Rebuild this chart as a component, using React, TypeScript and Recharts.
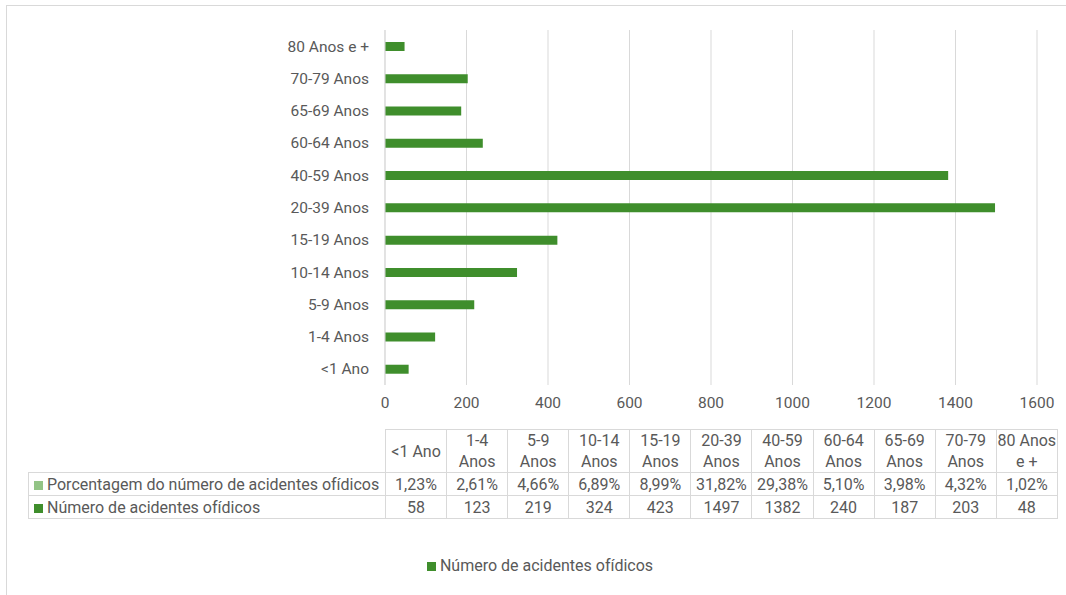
import React from "react";
import {
  Bar,
  BarChart,
  CartesianGrid,
  XAxis,
  YAxis,
} from "recharts";

// faixas etárias, na ordem da tabela
const faixas = [
  "<1 Ano",
  "1-4 Anos",
  "5-9 Anos",
  "10-14 Anos",
  "15-19 Anos",
  "20-39 Anos",
  "40-59 Anos",
  "60-64 Anos",
  "65-69 Anos",
  "70-79 Anos",
  "80 Anos e +",
];
// cabeçalho da tabela de dados (quebra de linha como no original)
const faixasTabela = [
  ["<1 Ano"],
  ["1-4", "Anos"],
  ["5-9", "Anos"],
  ["10-14", "Anos"],
  ["15-19", "Anos"],
  ["20-39", "Anos"],
  ["40-59", "Anos"],
  ["60-64", "Anos"],
  ["65-69", "Anos"],
  ["70-79", "Anos"],
  ["80 Anos", "e +"],
];
const acidentes = [58, 123, 219, 324, 423, 1497, 1382, 240, 187, 203, 48];
const porcentagens = [
  "1,23%", "2,61%", "4,66%", "6,89%", "8,99%", "31,82%",
  "29,38%", "5,10%", "3,98%", "4,32%", "1,02%",
];
const xTicks = [0, 200, 400, 600, 800, 1000, 1200, 1400, 1600];

const serieNome = "Número de acidentes ofídicos";
const seriePct = "Porcentagem do número de acidentes ofídicos";

const data = faixas.map((f, i) => ({ faixa: f, valor: acidentes[i] }));

const VERDE = "#3f8e2c";
const VERDE_CLARO = "#93c486";
const GRADE = "#d9d9d9";
const TEXTO = "#595959";
const FONTE = "Roboto, 'Noto Sans', sans-serif";

const cell: React.CSSProperties = {
  border: `1px solid ${GRADE}`,
  textAlign: "center",
  padding: 0,
  whiteSpace: "nowrap",
  overflow: "visible",
};

function Marcador({ cor }: { cor: string }) {
  return (
    <span
      style={{
        display: "inline-block",
        width: 9,
        height: 9,
        background: cor,
        marginRight: 4,
      }}
    />
  );
}

function TabelaDados() {
  const colW = (1057 - 385) / faixas.length;
  return (
    <table
      style={{
        position: "absolute",
        left: 28,
        top: 429,
        borderCollapse: "collapse",
        tableLayout: "fixed",
        fontFamily: FONTE,
        fontSize: 16,
        color: TEXTO,
        lineHeight: "21px",
      }}
    >
      <colgroup>
        <col style={{ width: 357 }} />
        {faixas.map((f) => (
          <col key={f} style={{ width: colW }} />
        ))}
      </colgroup>
      <tbody>
        <tr style={{ height: 43 }}>
          <td style={{ padding: 0 }} />
          {faixasTabela.map((linhas, i) => (
            <td key={i} style={cell}>
              {linhas.map((l, j) => (
                <div key={j}>{l}</div>
              ))}
            </td>
          ))}
        </tr>
        <tr style={{ height: 23 }}>
          <td style={{ ...cell, textAlign: "left", paddingLeft: 5 }}>
            <Marcador cor={VERDE_CLARO} />
            {seriePct}
          </td>
          {porcentagens.map((p, i) => (
            <td key={i} style={cell}>
              {p}
            </td>
          ))}
        </tr>
        <tr style={{ height: 23 }}>
          <td style={{ ...cell, textAlign: "left", paddingLeft: 5 }}>
            <Marcador cor={VERDE} />
            {serieNome}
          </td>
          {acidentes.map((v, i) => (
            <td key={i} style={cell}>
              {v}
            </td>
          ))}
        </tr>
      </tbody>
    </table>
  );
}

export default function App() {
  return (
    <div
      style={{
        position: "absolute",
        left: 0,
        top: 0,
        width: 1066,
        height: 595,
        overflow: "hidden",
        background: "#fff",
        fontFamily: FONTE,
      }}
    >
      <div
        style={{
          position: "absolute",
          left: 6,
          top: 5,
          width: 1080,
          height: 610,
          border: `1px solid ${GRADE}`,
        }}
      />
      <BarChart
        width={1066}
        height={595}
        data={data}
        layout="vertical"
        margin={{ top: 30, right: 29, bottom: 180, left: 285 }}
        style={{ position: "absolute", left: 0, top: 0 }}
      >
        <CartesianGrid horizontal={false} stroke={GRADE} />
        <XAxis
          type="number"
          domain={[0, 1600]}
          ticks={xTicks}
          axisLine={false}
          tickLine={false}
          tickMargin={6}
          tick={{ fill: TEXTO, fontSize: 15.5, fontFamily: FONTE }}
          height={30}
        />
        <YAxis
          type="category"
          dataKey="faixa"
          reversed
          width={100}
          interval={0}
          tickLine={false}
          axisLine={{ stroke: GRADE }}
          tickMargin={10}
          tick={{ fill: TEXTO, fontSize: 15.5, fontFamily: FONTE }}
        />
        <Bar
          dataKey="valor"
          name={serieNome}
          fill={VERDE}
          barSize={9}
          isAnimationActive={false}
        />
      </BarChart>
      <TabelaDados />
      <div
        style={{
          position: "absolute",
          top: 556,
          left: 0,
          width: 1080,
          textAlign: "center",
          fontSize: 16,
          color: TEXTO,
        }}
      >
        <Marcador cor={VERDE} />
        {serieNome}
      </div>
    </div>
  );
}
